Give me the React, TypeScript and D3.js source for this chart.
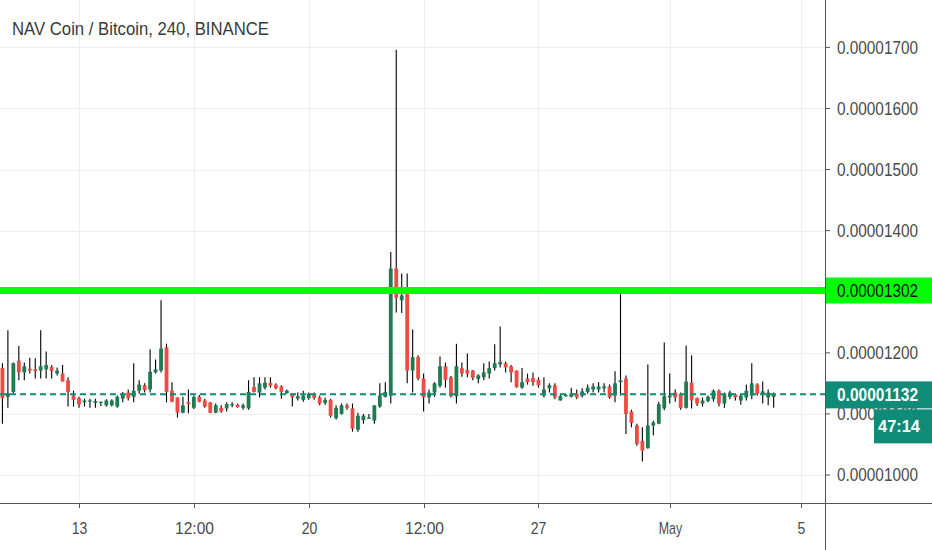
import { useMemo } from 'react';
import * as d3 from 'd3';

// 4h candles, first one at Apr 13 2019 00:00 UTC minus 14 bars
const firstBar = -14;
const opens = [1175, 1128, 1136, 1187, 1168, 1174, 1173, 1171, 1173, 1177, 1166, 1166, 1155, 1130, 1126, 1119, 1120, 1118, 1118, 1114, 1114, 1112, 1125, 1135, 1128, 1138, 1147, 1140, 1168, 1171, 1209, 1138, 1127, 1102, 1119, 1110, 1128, 1122, 1119, 1102, 1110, 1109, 1114, 1115, 1110, 1109, 1144, 1135, 1143, 1151, 1148, 1145, 1134, 1133, 1125, 1123, 1126, 1133, 1127, 1118, 1123, 1093, 1100, 1114, 1109, 1074, 1090, 1092, 1089, 1112, 1128, 1130, 1338, 1286, 1299, 1171, 1193, 1158, 1127, 1135, 1146, 1178, 1160, 1129, 1175, 1172, 1171, 1157, 1160, 1166, 1175, 1181, 1183, 1178, 1171, 1143, 1158, 1159, 1156, 1130, 1142, 1147, 1122, 1130, 1128, 1133, 1130, 1136, 1140, 1140, 1142, 1145, 1130, 1152, 1158, 1104, 1081, 1056, 1044, 1081, 1084, 1109, 1127, 1135, 1133, 1110, 1151, 1126, 1117, 1121, 1124, 1138, 1117, 1128, 1132, 1122, 1127, 1130, 1148, 1133, 1127, 1128];
const highs = [1183, 1237, 1184, 1211, 1184, 1192, 1191, 1237, 1202, 1180, 1176, 1180, 1160, 1138, 1128, 1125, 1125, 1125, 1120, 1124, 1124, 1130, 1136, 1140, 1183, 1155, 1150, 1206, 1189, 1286, 1215, 1152, 1127, 1128, 1140, 1130, 1131, 1125, 1119, 1117, 1114, 1119, 1119, 1117, 1117, 1155, 1160, 1160, 1160, 1160, 1150, 1147, 1140, 1133, 1135, 1138, 1135, 1135, 1130, 1127, 1125, 1114, 1117, 1117, 1117, 1102, 1100, 1100, 1114, 1150, 1152, 1365, 1696, 1330, 1330, 1238, 1196, 1166, 1140, 1152, 1194, 1184, 1162, 1215, 1184, 1199, 1172, 1165, 1183, 1186, 1214, 1243, 1186, 1180, 1171, 1175, 1166, 1168, 1160, 1160, 1150, 1150, 1133, 1133, 1143, 1140, 1142, 1148, 1150, 1152, 1150, 1148, 1170, 1303, 1163, 1107, 1084, 1078, 1181, 1089, 1120, 1217, 1166, 1140, 1135, 1212, 1196, 1127, 1127, 1130, 1140, 1140, 1135, 1138, 1133, 1132, 1148, 1183, 1150, 1153, 1140, 1135];
const lows = [1084, 1110, 1134, 1155, 1155, 1166, 1158, 1158, 1158, 1158, 1163, 1153, 1112, 1112, 1110, 1112, 1110, 1110, 1113, 1112, 1112, 1110, 1119, 1122, 1119, 1133, 1135, 1135, 1166, 1168, 1119, 1119, 1094, 1101, 1101, 1108, 1119, 1110, 1101, 1101, 1102, 1104, 1111, 1110, 1107, 1107, 1135, 1127, 1140, 1143, 1140, 1125, 1133, 1112, 1122, 1120, 1123, 1123, 1114, 1115, 1094, 1091, 1099, 1107, 1071, 1071, 1084, 1092, 1084, 1110, 1127, 1117, 1266, 1265, 1150, 1135, 1155, 1104, 1117, 1128, 1143, 1143, 1127, 1117, 1161, 1160, 1155, 1150, 1155, 1158, 1171, 1176, 1168, 1152, 1143, 1141, 1148, 1146, 1143, 1127, 1135, 1124, 1122, 1128, 1127, 1124, 1127, 1133, 1135, 1135, 1135, 1125, 1119, 1130, 1067, 1078, 1048, 1022, 1043, 1065, 1083, 1106, 1117, 1120, 1107, 1109, 1109, 1113, 1112, 1119, 1120, 1112, 1110, 1124, 1122, 1115, 1122, 1124, 1130, 1117, 1114, 1110];
const closes = [1126, 1134, 1183, 1168, 1178, 1171, 1170, 1178, 1180, 1170, 1171, 1153, 1136, 1123, 1116, 1122, 1122, 1121, 1120, 1122, 1122, 1128, 1132, 1126, 1138, 1148, 1139, 1169, 1173, 1207, 1136, 1120, 1102, 1114, 1116, 1128, 1120, 1112, 1102, 1114, 1104, 1116, 1116, 1111, 1114, 1136, 1136, 1150, 1151, 1146, 1142, 1136, 1138, 1127, 1129, 1130, 1133, 1126, 1117, 1123, 1097, 1110, 1114, 1110, 1076, 1097, 1097, 1094, 1114, 1130, 1136, 1338, 1290, 1294, 1171, 1193, 1158, 1127, 1135, 1150, 1178, 1156, 1129, 1178, 1166, 1166, 1159, 1163, 1168, 1175, 1183, 1185, 1176, 1168, 1144, 1152, 1152, 1152, 1147, 1140, 1147, 1127, 1129, 1131, 1133, 1127, 1137, 1143, 1145, 1145, 1145, 1127, 1150, 1155, 1100, 1085, 1051, 1040, 1081, 1086, 1116, 1129, 1130, 1127, 1110, 1153, 1122, 1117, 1122, 1128, 1138, 1117, 1132, 1135, 1127, 1130, 1138, 1150, 1133, 1137, 1135, 1132];

const priceTicks = [1000, 1100, 1200, 1300, 1400, 1500, 1600, 1700];
const timeTickDates = ['2019-04-13T00:00Z', '2019-04-16T12:00Z', '2019-04-20T00:00Z', '2019-04-23T12:00Z', '2019-04-27T00:00Z', '2019-05-01T00:00Z', '2019-05-05T00:00Z'];
const timeTickLabels = ['13', '12:00', '20', '12:00', '27', 'May', '5'];
const levelLine = 1302;
const lastPrice = 1132;
const countdown = '47:14';

const W = 932;
const H = 550;
const plotRight = 825;
const plotBottom = 503;
const font = '"Liberation Sans", Arial, sans-serif';
const up = '#1e7b52';
const down = '#ef4a43';
const teal = '#0f8c78';

const fmt = (v: number) => (v * 1e-8).toFixed(8);

export default function App() {
  const base = Date.UTC(2019, 3, 13);
  const x = d3.scaleUtc()
    .domain([new Date('2019-04-13T00:00Z'), new Date('2019-05-05T00:00Z')])
    .range([79, 801]);
  const y = d3.scaleLinear().domain([1000, 1700]).range([475, 47.4]);

  const candles = useMemo(() => opens.map((o, i) => ({
    t: new Date(base + (firstBar + i) * 4 * 3600 * 1000),
    o, h: highs[i], l: lows[i], c: closes[i],
  })), []);

  const bw = 3.8;
  const labelX = 837;
  const labelW = 81;

  return (
    <svg width={W} height={H} style={{ position: 'absolute', left: 0, top: 0, background: '#fff' }} fontFamily={font}>
      <defs>
        <clipPath id="plot"><rect x={0} y={0} width={plotRight} height={plotBottom} /></clipPath>
      </defs>

      {/* grid */}
      <g stroke="#eceff2" strokeWidth={1}>
        {priceTicks.map(p => (
          <line key={p} x1={0} x2={plotRight} y1={Math.round(y(p)) + 0.5} y2={Math.round(y(p)) + 0.5} />
        ))}
        {timeTickDates.map(d => {
          const xx = Math.round(x(new Date(d))) + 0.5;
          return <line key={d} x1={xx} x2={xx} y1={0} y2={plotBottom} />;
        })}
      </g>

      <text x={12} y={35} fontSize={19} fill="#3a3a3a" textLength={257} lengthAdjust="spacingAndGlyphs">
        NAV Coin / Bitcoin, 240, BINANCE
      </text>

      {/* candles */}
      <g clipPath="url(#plot)">
        {candles.map((d, i) => {
          const cx = x(d.t);
          const top = y(Math.max(d.o, d.c));
          const bot = y(Math.min(d.o, d.c));
          return (
            <g key={i}>
              <line x1={cx} x2={cx} y1={y(d.h)} y2={y(d.l)} stroke="#000" strokeWidth={1.1} />
              <rect x={cx - bw / 2} y={top} width={bw} height={Math.max(1.2, bot - top)} fill={d.c >= d.o ? up : down} />
            </g>
          );
        })}
      </g>

      {/* level + last price */}
      <line x1={0} x2={plotRight} y1={y(levelLine)} y2={y(levelLine)} stroke="#00ff00" strokeWidth={7} />
      <line x1={0} x2={plotRight} y1={y(lastPrice)} y2={y(lastPrice)} stroke={teal} strokeWidth={2} strokeDasharray="6 4" />

      {/* axes */}
      <line x1={plotRight + 0.5} x2={plotRight + 0.5} y1={0} y2={H} stroke="#555" strokeWidth={1} />
      <line x1={0} x2={W} y1={plotBottom + 0.5} y2={plotBottom + 0.5} stroke="#555" strokeWidth={1} />

      {priceTicks.map(p => (
        <g key={p}>
          <line x1={plotRight} x2={plotRight + 5} y1={y(p)} y2={y(p)} stroke="#555" />
          <text x={labelX} y={y(p)} dy="0.36em" fontSize={18} fill="#4a4a4a" textLength={labelW} lengthAdjust="spacingAndGlyphs">{fmt(p)}</text>
        </g>
      ))}

      {timeTickDates.map((d, i) => {
        const xx = Math.round(x(new Date(d))) + 0.5;
        return (
          <g key={d}>
            <line x1={xx} x2={xx} y1={plotBottom} y2={plotBottom + 5} stroke="#555" />
            <text x={xx} y={534} textAnchor="middle" fontSize={17} fill="#4a4a4a"
              textLength={timeTickLabels[i].length * 7.8} lengthAdjust="spacingAndGlyphs">{timeTickLabels[i]}</text>
          </g>
        );
      })}

      {/* level label */}
      <rect x={plotRight + 1} y={y(levelLine) - 13} width={W - plotRight} height={26} fill="#00ff00" />
      <text x={labelX} y={y(levelLine)} dy="0.36em" fontSize={18} fill="#111" textLength={labelW} lengthAdjust="spacingAndGlyphs">{fmt(levelLine)}</text>

      {/* last price label + countdown */}
      <rect x={plotRight + 1} y={y(lastPrice) - 13} width={W - plotRight} height={27} fill={teal} />
      <text x={labelX} y={y(lastPrice)} dy="0.36em" fontSize={18} fontWeight="bold" fill="#fff" textLength={labelW} lengthAdjust="spacingAndGlyphs">{fmt(lastPrice)}</text>
      <rect x={874} y={y(lastPrice) + 15} width={W - 874} height={34} fill={teal} />
      <text x={899} y={y(lastPrice) + 32} dy="0.36em" textAnchor="middle" fontSize={17} fontWeight="bold" fill="#fff" textLength={42} lengthAdjust="spacingAndGlyphs">{countdown}</text>
    </svg>
  );
}
